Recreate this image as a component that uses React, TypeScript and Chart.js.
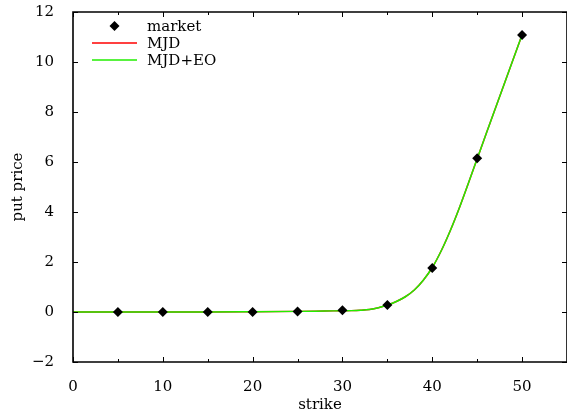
import React, { useEffect, useRef } from "react";
import { Chart, registerables } from "chart.js";

Chart.register(...registerables);

// Market quotes
const marketStrikes = [5, 10, 15, 20, 25, 30, 35, 40, 45, 50];
const marketPrices = [0, 0, 0, 0, 0.02, 0.07, 0.28, 1.76, 6.15, 11.08];

// Model curves
const curveStrikes = [0, 5, 10, 15, 20, 25, 28, 30, 31, 32, 33, 34, 35, 36, 37, 38, 39, 40, 41, 42, 43, 44, 45, 46, 47, 48, 49, 50];
const mjdPrices = [0, 0, 0, 0, 0.01, 0.025, 0.04, 0.05, 0.055, 0.07, 0.1, 0.17, 0.28, 0.42, 0.61, 0.88, 1.27, 1.78, 2.45, 3.25, 4.15, 5.13, 6.13, 7.13, 8.12, 9.11, 10.1, 11.09];
const mjdEoPrices = [0, 0, 0, 0, 0.01, 0.025, 0.04, 0.05, 0.055, 0.07, 0.1, 0.17, 0.28, 0.42, 0.61, 0.88, 1.27, 1.78, 2.45, 3.25, 4.15, 5.13, 6.13, 7.13, 8.12, 9.11, 10.1, 11.09];

const seriesLabels = ["market", "MJD", "MJD+EO"];
const xTitle = "strike";
const yTitle = "put price";
const xMin = 0, xMax = 55, xMajor = 10, xMinor = 5;
const yMin = -2, yMax = 12, yMajor = 2;

const FONT = "'DejaVu Serif', serif";
const RED = "#ff0000";
const GREEN = "#22ee00";

const framePlugin = {
  id: "frameTicks",
  afterDatasetsDraw(chart: any) {
    const { ctx, chartArea: a, scales } = chart;
    const xs = scales.x, ys = scales.y;
    ctx.save();
    ctx.strokeStyle = "#000";
    ctx.lineWidth = 1;
    for (let v = xMin; v <= xMax + 1e-9; v += xMinor) {
      const px = Math.round(xs.getPixelForValue(v)) + 0.5;
      const major = Math.abs(v % xMajor) < 1e-9;
      const len = major ? 5 : 3;
      ctx.beginPath();
      ctx.moveTo(px, a.bottom);
      ctx.lineTo(px, a.bottom - len);
      ctx.moveTo(px, a.top);
      ctx.lineTo(px, a.top + len);
      ctx.stroke();
    }
    for (let v = yMin; v <= yMax + 1e-9; v += yMajor) {
      const py = Math.round(ys.getPixelForValue(v)) + 0.5;
      ctx.beginPath();
      ctx.moveTo(a.left, py);
      ctx.lineTo(a.left + 5, py);
      ctx.moveTo(a.right, py);
      ctx.lineTo(a.right - 5, py);
      ctx.stroke();
    }
    ctx.lineWidth = 1.6;
    ctx.beginPath();
    ctx.moveTo(a.left, a.top);
    ctx.lineTo(a.right, a.top);
    ctx.lineTo(a.right, a.bottom);
    ctx.lineTo(a.left, a.bottom);
    ctx.closePath();
    ctx.stroke();

    // legend
    const ds = chart.data.datasets;
    const sx0 = a.left + 19, sx1 = a.left + 64, tx = a.left + 74;
    const rows = [a.top + 14, a.top + 31, a.top + 48];
    ctx.font = "15px " + FONT;
    ctx.textBaseline = "middle";
    ctx.textAlign = "left";
    ds.forEach((d: any, i: number) => {
      const y = rows[i];
      if (d.showLine === false) {
        const cx = (sx0 + sx1) / 2, r = 5;
        ctx.fillStyle = "#000";
        ctx.beginPath();
        ctx.moveTo(cx, y - r);
        ctx.lineTo(cx + r, y);
        ctx.lineTo(cx, y + r);
        ctx.lineTo(cx - r, y);
        ctx.closePath();
        ctx.fill();
      } else {
        ctx.strokeStyle = d.borderColor;
        ctx.lineWidth = 1.5;
        ctx.beginPath();
        ctx.moveTo(sx0, y);
        ctx.lineTo(sx1, y);
        ctx.stroke();
      }
      ctx.fillStyle = "#000";
      ctx.fillText(d.label, tx, y + 1);
    });
    ctx.restore();
  },
};

export default function App() {
  const ref = useRef<HTMLCanvasElement | null>(null);
  useEffect(() => {
    if (!ref.current) return;
    const chart = new Chart(ref.current, {
      type: "scatter",
      data: {
        datasets: [
          {
            label: seriesLabels[0],
            data: marketStrikes.map((x, i) => ({ x, y: marketPrices[i] })),
            showLine: false,
            pointStyle: "rectRot",
            pointRadius: 5,
            pointBackgroundColor: "#000",
            pointBorderColor: "#000",
            pointBorderWidth: 0,
            order: 0,
          },
          {
            label: seriesLabels[1],
            data: curveStrikes.map((x, i) => ({ x, y: mjdPrices[i] })),
            showLine: true,
            borderColor: RED,
            borderWidth: 1.5,
            pointRadius: 0,
            cubicInterpolationMode: "monotone",
            order: 2,
          },
          {
            label: seriesLabels[2],
            data: curveStrikes.map((x, i) => ({ x, y: mjdEoPrices[i] })),
            showLine: true,
            borderColor: GREEN,
            borderWidth: 1.5,
            pointRadius: 0,
            cubicInterpolationMode: "monotone",
            order: 1,
          },
        ],
      },
      options: {
        responsive: false,
        animation: false,
        layout: { autoPadding: false, padding: { top: 12, right: 0, left: 0, bottom: 0 } },
        plugins: { legend: { display: false }, tooltip: { enabled: false } },
        scales: {
          x: {
            type: "linear",
            min: xMin,
            max: xMax,
            ticks: {
              stepSize: xMajor,
              color: "#000",
              font: { family: FONT, size: 15 },
              padding: 8,
              maxRotation: 0,
            },
            afterBuildTicks: (s: any) => {
              s.ticks = s.ticks.filter((t: any) => Math.abs(t.value % xMajor) < 1e-9);
            },
            afterFit: (s: any) => {
              s.height = 55;
              s.paddingLeft = 0;
              s.paddingRight = 0;
            },
            grid: { display: false },
            border: { display: false },
            title: {
              display: true,
              text: xTitle,
              color: "#000",
              font: { family: FONT, size: 15 },
              padding: { top: 0, bottom: 3 },
            },
          },
          y: {
            type: "linear",
            min: yMin,
            max: yMax,
            ticks: {
              stepSize: yMajor,
              color: "#000",
              font: { family: FONT, size: 15 },
              padding: 11,
              callback: (v: any) => (v < 0 ? "\u2212" + Math.abs(v) : String(v)),
            },
            afterFit: (s: any) => {
              s.width = 73;
              s.paddingTop = 0;
              s.paddingBottom = 0;
            },
            grid: { display: false },
            border: { display: false },
            title: {
              display: true,
              text: yTitle,
              color: "#000",
              font: { family: FONT, size: 15 },
              padding: { top: 9, bottom: 0 },
            },
          },
        },
      },
      plugins: [framePlugin],
    } as any);
    return () => chart.destroy();
  }, []);
  return (
    <div style={{ position: "absolute", left: 0, top: 0, width: 567, height: 417 }}>
      <canvas ref={ref} width={567} height={417} style={{ display: "block" }} />
    </div>
  );
}
